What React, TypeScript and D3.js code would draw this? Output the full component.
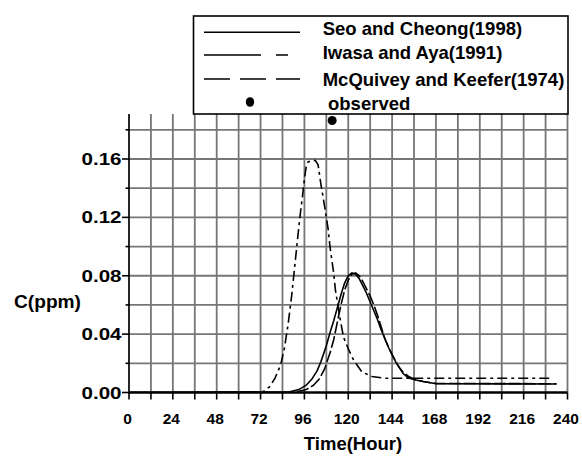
import React from "react";
import * as d3 from "d3";

// Seo and Cheong (1998) - solid
const seoHours = [0, 88, 93, 97, 100, 103, 105, 108, 110, 112, 114, 116, 118, 120, 122, 124, 126, 128, 130, 132, 134, 136, 138, 140, 142, 144, 146, 148, 150, 153, 157, 161, 165, 168, 234];
const seoValues = [0, 0.0005, 0.002, 0.005, 0.009, 0.015, 0.021, 0.032, 0.041, 0.049, 0.058, 0.067, 0.075, 0.08, 0.082, 0.081, 0.078, 0.073, 0.068, 0.062, 0.056, 0.05, 0.043, 0.037, 0.031, 0.026, 0.021, 0.017, 0.013, 0.01, 0.0085, 0.0075, 0.0067, 0.006, 0.0058];

// Iwasa and Aya (1991) - long dash / short dash
const iwasaHours = [0, 72, 74, 77, 80, 83, 85, 87, 88, 89, 90, 91, 92, 93, 94, 95, 96, 97, 98, 100, 102, 103.5, 105, 107, 109, 110, 112, 113, 115.6, 117.4, 120, 123, 127.5, 133, 140, 231];
const iwasaValues = [0, 0, 0.001, 0.004, 0.01, 0.019, 0.03, 0.046, 0.056, 0.066, 0.078, 0.09, 0.102, 0.114, 0.125, 0.135, 0.146, 0.155, 0.158, 0.159, 0.159, 0.156, 0.143, 0.128, 0.112, 0.1, 0.082, 0.07, 0.05, 0.038, 0.03, 0.022, 0.014, 0.011, 0.0098, 0.0098];

// McQuivey and Keefer (1974) - dashed
const mcqHours = [92, 97, 101, 104, 107, 110, 112, 114, 116, 118, 120, 122, 124, 126, 128, 130, 132, 134, 136, 138, 140, 142, 144, 146, 148, 150, 153, 157, 161, 165, 168, 234];
const mcqValues = [0.0005, 0.002, 0.005, 0.009, 0.016, 0.027, 0.036, 0.048, 0.06, 0.07, 0.077, 0.081, 0.082, 0.08, 0.076, 0.071, 0.066, 0.06, 0.053, 0.045, 0.037, 0.031, 0.026, 0.021, 0.017, 0.014, 0.011, 0.0088, 0.0075, 0.0067, 0.0062, 0.006];

// observed
const obsHours = [111.2];
const obsValues = [0.1864];

const xTicks = [0, 24, 48, 72, 96, 120, 144, 168, 192, 216, 240];
const yTicks = [0, 0.04, 0.08, 0.12, 0.16];
const yTickLabels = ["0.00", "0.04", "0.08", "0.12", "0.16"];

const legendLabels = ["Seo and Cheong(1998)", "Iwasa and Aya(1991)", "McQuivey and Keefer(1974)", "observed"];

const FONT = "'Liberation Sans', Arial, sans-serif";

export default function App() {
  const left = 129, right = 567.5, top = 114, bottom = 392.5;
  const x = d3.scaleLinear().domain([0, 240]).range([left, right]);
  const y = d3.scaleLinear().domain([0, 0.16]).range([bottom, 159]);

  const line = (hs: number[], vs: number[]) =>
    d3.line<number>().x((_, i) => x(hs[i])).y((_, i) => y(vs[i]))(hs.map((_, i) => i)) || "";

  const vGrid = d3.range(12, 241, 12);
  const hGrid = d3.range(1, 10).map((k) => k * 0.02);
  const xMinor = d3.range(0, 241, 12);
  const yMinor = d3.range(0, 10).map((k) => k * 0.02);

  const lx1 = 204, lx2 = 300, tx = 322.7;

  return (
    <svg width={582} height={458} style={{ position: "absolute", left: 0, top: 0, background: "#fff" }}>
      <defs>
        <clipPath id="plot">
          <rect x={left} y={top} width={right - left + 1} height={bottom - top} />
        </clipPath>
      </defs>
      {/* grid */}
      <g stroke="#767676" strokeWidth={1.8}>
        {vGrid.map((h) => (
          <line key={"v" + h} x1={x(h)} x2={x(h)} y1={top} y2={bottom} />
        ))}
        {hGrid.map((v) => (
          <line key={"h" + v} x1={left} x2={right} y1={y(v)} y2={y(v)} />
        ))}
      </g>
      {/* axes */}
      <g stroke="#000">
        <line x1={left} x2={left} y1={top} y2={bottom + 1} strokeWidth={1.7} />
        <line x1={left} x2={right} y1={bottom} y2={bottom} strokeWidth={2.4} />
        {xMinor.map((h) => (
          <line key={"xt" + h} x1={x(h)} x2={x(h)} y1={bottom} y2={bottom + 7} strokeWidth={1.6} />
        ))}
        {yMinor.map((v, i) => (
          <line key={"yt" + i} x1={left - (i % 2 === 0 ? 7 : 3.5)} x2={left} y1={y(v)} y2={y(v)} strokeWidth={1.6} />
        ))}
      </g>
      {/* curves */}
      <g clipPath="url(#plot)" fill="none" stroke="#000" strokeWidth={1.6}>
        <path d={line(seoHours, seoValues)} />
        <path d={line(iwasaHours, iwasaValues)} strokeDasharray="10,4,3,4" />
        <path d={line(mcqHours, mcqValues)} strokeDasharray="12,3" />
      </g>
      {obsHours.map((h, i) => (
        <circle key={"o" + i} cx={x(h)} cy={y(obsValues[i])} r={4.5} fill="#000" />
      ))}
      {/* tick labels */}
      <g fontFamily={FONT} fontWeight="bold" fontSize={15.5} fill="#000">
        {xTicks.map((h) => (
          <text key={"xl" + h} x={x(h) - 1.5} y={424} textAnchor="middle">
            {h}
          </text>
        ))}
        {yTicks.map((v, i) => (
          <text key={"yl" + i} x={81.5} y={y(v) + 6} fontSize={17} textLength={40} lengthAdjust="spacingAndGlyphs">
            {yTickLabels[i]}
          </text>
        ))}
      </g>
      <text x={14} y={307.5} fontFamily={FONT} fontWeight="bold" fontSize={18} textLength={67} lengthAdjust="spacingAndGlyphs">C(ppm)</text>
      <text x={353} y={450} textAnchor="middle" fontFamily={FONT} fontWeight="bold" fontSize={18.5}>Time(Hour)</text>
      {/* legend */}
      <rect x={193.5} y={16} width={374.5} height={98} fill="#fff" stroke="#000" strokeWidth={1.6} />
      <g stroke="#000" strokeWidth={1.6}>
        <line x1={lx1} x2={lx2} y1={32.3} y2={32.3} />
        <line x1={lx1} x2={lx2} y1={55} y2={55} strokeDasharray="57,15,12,40" />
        <line x1={lx1} x2={lx2} y1={79} y2={79} strokeDasharray="26,10" />
      </g>
      <ellipse cx={250} cy={102} rx={4.2} ry={4.8} fill="#000" />
      <g fontFamily={FONT} fontWeight="bold" fontSize={18.5} fill="#000">
        <text x={tx} y={35}>{legendLabels[0]}</text>
        <text x={tx} y={59.3}>{legendLabels[1]}</text>
        <text x={tx} y={86}>{legendLabels[2]}</text>
        <text x={328} y={110}>{legendLabels[3]}</text>
      </g>
    </svg>
  );
}
